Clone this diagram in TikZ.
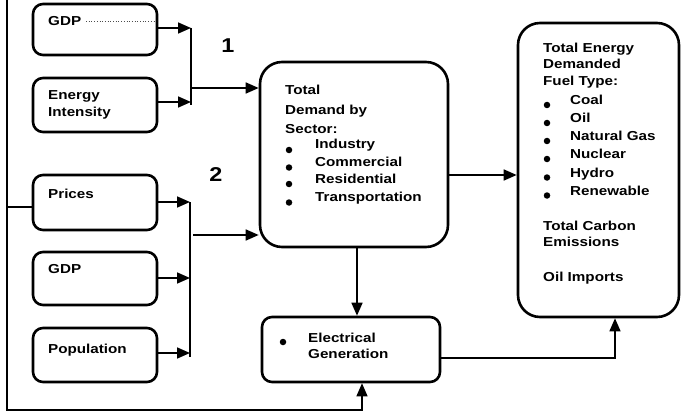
\documentclass[tikz,border=0pt]{standalone}
\usepackage{fontspec}
\setmainfont{Liberation Sans}[FakeStretch=1.17]
\usetikzlibrary{arrows.meta}
\begin{document}
\begin{tikzpicture}[x=1pt,y=-1pt,
  box/.style={draw, line width=2.6pt, rounded corners=10pt, inner sep=0pt},
  bigbox/.style={draw, line width=2.6pt, rounded corners=22pt, inner sep=0pt},
  conn/.style={line width=1.6pt},
  arr/.style={conn, -{Triangle[length=13pt,width=11pt]}},
  txt/.style={anchor=base west, inner sep=0pt, font=\fontsize{13}{15}\selectfont\bfseries},
  num/.style={anchor=base, inner sep=0pt, font=\fontsize{20}{24}\selectfont\bfseries},
  dot/.style={fill, circle, inner sep=0pt, minimum size=6.5pt},
  dots/.style={dotted, line width=0.7pt, black!70}
]
\useasboundingbox (0,0) rectangle (681,412);

% boxes
\node[box, minimum width=124pt, minimum height=51pt] (gdpA) at (95,29.5) {};
\node[box, minimum width=124pt, minimum height=54pt] (ei) at (95,105) {};
\node[box, minimum width=124pt, minimum height=55pt] (prices) at (95,202.5) {};
\node[box, minimum width=124pt, minimum height=53pt] (gdpB) at (95,278.5) {};
\node[box, minimum width=124pt, minimum height=54pt] (pop) at (95,355) {};
\node[bigbox, minimum width=188pt, minimum height=185pt] (td) at (354,154.5) {};
\node[box, minimum width=178pt, minimum height=65pt] (eg) at (351,349.5) {};
\node[bigbox, minimum width=161pt, minimum height=294pt] (te) at (598.5,170) {};

% small box texts
\node[txt] (gdpAt) at (48,26) {GDP};
\node[txt] (eit1) at (48,100) {Energy};
\node[txt] (eit2) at (48,117) {Intensity};
\node[txt] (pricest) at (48,198) {Prices};
\node[txt] (gdpBt) at (48,273) {GDP};
\node[txt] (popt) at (48,353) {Population};
\coordinate (dA) at (86,21.5);
\coordinate (dB) at (155,21.5);
\draw[dots] (dA) -- (dB);

% numbers
\node[num] (n1) at (228,53) {1};
\node[num] (n2) at (216,182) {2};

% total demand texts
\foreach \t/\yy [count=\i] in {Total/95, Demand by/114, Sector:/134}
  \node[txt] (tdh\i) at (285,\yy) {\t};
\foreach \t/\yy [count=\i] in {Industry/149, Commercial/166.5, Residential/183, Transportation/201.5}{
  \node[txt] (tdi\i) at (315,\yy) {\t};
  \node[dot] (tdb\i) at (289,\yy+1) {};
}

% total energy texts
\foreach \t/\yy [count=\i] in {Total Energy/53, Demanded/68.5, Fuel Type:/85.5}
  \node[txt] (teh\i) at (543,\yy) {\t};
\foreach \t/\yy [count=\i] in {Coal/104.5, Oil/122.5, Natural Gas/140.5, Nuclear/158.5, Hydro/177, Renewable/195}{
  \node[txt] (tei\i) at (570,\yy) {\t};
  \node[dot] (teb\i) at (547,\yy+0.5) {};
}
\node[txt] (tec1) at (543,230.5) {Total Carbon};
\node[txt] (tec2) at (543,246.5) {Emissions};
\node[txt] (teo) at (543,281.5) {Oil Imports};

% electrical generation texts
\node[dot] (egb) at (283,342) {};
\node[txt] (egt1) at (308,342) {Electrical};
\node[txt] (egt2) at (308,358) {Generation};

% group 1 connectors
\coordinate (b1t) at (191,28);
\coordinate (b1e) at (191,102);
\coordinate (b1b) at (191,105);
\coordinate (j1) at (191,88);
\draw[arr] (gdpA.east |- b1t) -- (b1t);
\draw[arr] (ei.east |- b1e) -- (b1e);
\draw[conn] (b1t) -- (b1b);
\draw[arr] (j1) -- (td.west |- j1);

% group 2 connectors
\coordinate (b2t) at (190,202);
\coordinate (b2m) at (190,278);
\coordinate (b2p) at (190,353);
\coordinate (b2b) at (190,357);
\coordinate (j2) at (193,235);
\draw[arr] (prices.east |- b2t) -- (b2t);
\draw[arr] (gdpB.east |- b2m) -- (b2m);
\draw[arr] (pop.east |- b2p) -- (b2p);
\draw[conn] (b2t) -- (b2b);
\draw[arr] (j2) -- (td.west |- j2);

% other connectors
\coordinate (v1) at (357,0);
\draw[arr] (td.south -| v1) -- (eg.north -| v1);
\coordinate (h1) at (0,175);
\draw[arr] (td.east |- h1) -- (te.west |- h1);
\coordinate (c1) at (615,358);
\draw[arr, line width=1.4pt] (eg.east |- c1) -- (c1) -- (te.south -| c1);

% feedback
\coordinate (f0) at (7,0);
\coordinate (f1) at (7,207);
\coordinate (f2) at (7,410);
\coordinate (f3) at (362,410);
\draw[conn, line width=1.3pt] (f0) -- (f1);
\draw[arr, line width=1.3pt] (prices.west |- f1) -- (f1) -- (f2) -- (f3) -- (eg.south -| f3);
\end{tikzpicture}
\end{document}
